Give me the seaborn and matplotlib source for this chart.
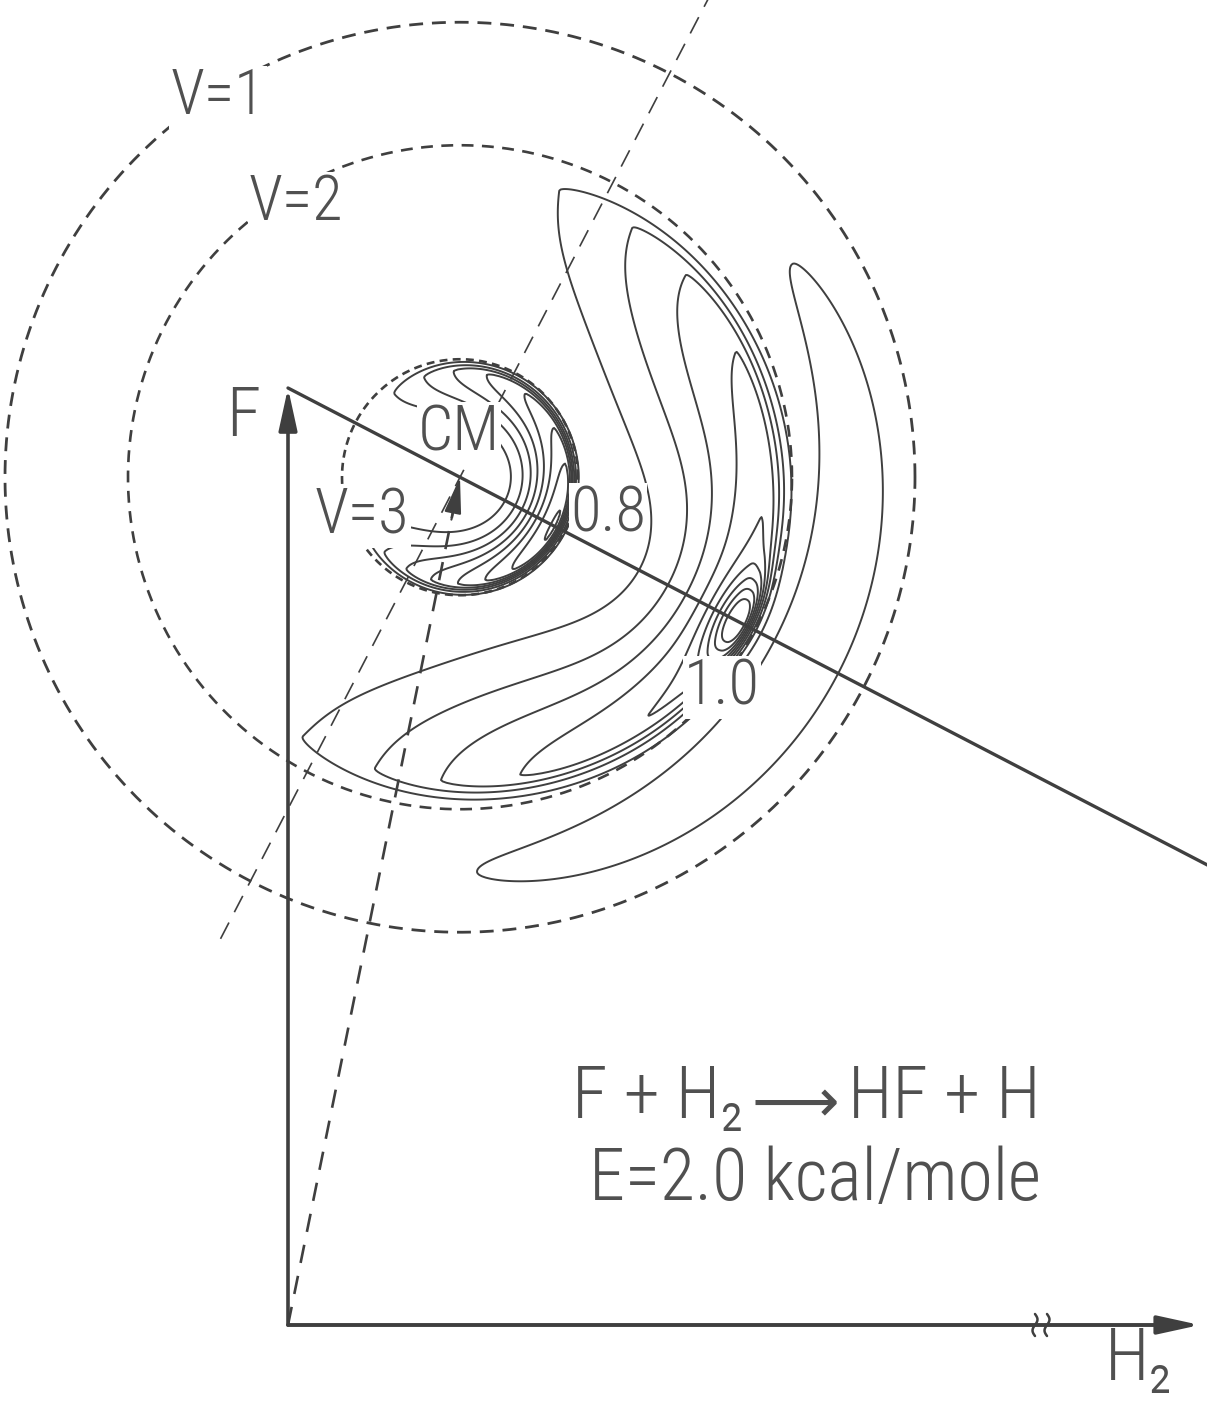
# Diagrama de Newton com mapa de contorno do fluxo de HF (F + H2 -> HF + H)

import numpy as np
import matplotlib.pyplot as plt
import seaborn as sns
from matplotlib.patches import FancyArrowPatch, ArrowStyle

# --- Dados do diagrama (unidades de velocidade, escala da figura) ---
beam_names = ["F", "H₂"]
beam_masses = [19.0, 2.0]
beam_speeds = [937.0, 1806.0]      # F ao longo de +y, H2 ao longo de +x
h2_drawn = 912.0                    # comprimento desenhado do vetor H2 (eixo interrompido)
h2_break = 753.0

vib_labels = ["V=1", "V=2", "V=3"]
vib_radii = [455.0, 332.0, 118.0]

# componentes do fluxo (anéis por estado vibracional), psi medido a partir da direção do H2
comp_state = ["v2", "v2", "v2", "v2", "v3", "v3", "v1"]
comp_amp = [0.55, 0.35, 0.35, 0.35, 0.30, 0.50, 0.16]
comp_psi0 = [0, 0, 50, -47, 0, 15, 0]
comp_spsi = [6, 25, 30, 29, 35, 105, 62]
comp_pow = [2, 2, 2, 2, 2, 4, 2]
comp_r0 = [318, 314, 303, 303, 106, 106, 395]
comp_sin = [18, 45, 82, 82, 20, 30, 42]
comp_sout = [8, 10, 11, 11, 6, 6, 32]

contour_levels = [0.1, 0.2, 0.3, 0.4, 0.5, 0.6, 0.7, 0.8, 0.9]
peak_labels = ["0.8", "1.0"]
reaction = ["F + H₂", "⟶", "HF + H"]
energy = "E=2.0 kcal/mole"

# --- Estilo ---
sns.set_theme(style="white")
ink = "#3f3f3f"
txt = "#505050"
plt.rcParams["font.family"] = ["Roboto Condensed", "DejaVu Sans"]

fig = plt.figure(figsize=(12.07, 14.05), dpi=100)
ax = fig.add_axes([0, 0, 1, 1])
ax.set_xlim(-288, 919)
ax.set_ylim(-80, 1325)
ax.axis("off")

m_F, m_H2 = beam_masses
v_F, v_H2 = beam_speeds
cm_x = m_H2 * v_H2 / (m_F + m_H2)
cm_y = m_F * v_F / (m_F + m_H2)
theta_rel = np.degrees(np.arctan2(-v_F, v_H2))

# --- Campo de fluxo ---
gx = np.linspace(cm_x - 480, cm_x + 480, 700)
gy = np.linspace(cm_y - 480, cm_y + 480, 700)
X, Y = np.meshgrid(gx, gy)
R = np.hypot(X - cm_x, Y - cm_y)
psi = (np.degrees(np.arctan2(Y - cm_y, X - cm_x)) - theta_rel + 180) % 360 - 180

Z = np.zeros_like(R)
for i in range(len(comp_state)):
    dpsi = (psi - comp_psi0[i] + 180) % 360 - 180
    ang = np.exp(-0.5 * np.abs(dpsi / comp_spsi[i]) ** comp_pow[i])
    s = np.where(R < comp_r0[i], comp_sin[i], comp_sout[i])
    rad = np.exp(-0.5 * ((R - comp_r0[i]) / s) ** 2)
    Z += comp_amp[i] * ang * rad

ax.contour(X, Y, Z, levels=contour_levels, colors=ink, linewidths=1.4, zorder=1)

# --- Círculos de energia máxima (tracejados) ---
th = np.linspace(0, 2 * np.pi, 900)
circle_lw = [2.0, 1.9, 1.9]
circle_dash = [(5, 3.2), (4.5, 3.2), (3, 2)]
for i, rad in enumerate(vib_radii):
    sns.lineplot(x=cm_x + rad * np.cos(th), y=cm_y + rad * np.sin(th), sort=False,
                 estimator=None, color=ink, lw=circle_lw[i],
                 linestyle=(0, circle_dash[i]), ax=ax, zorder=1.5)

# linha perpendicular à velocidade relativa passando pelo CM
px, py = np.array([v_F, v_H2]) / np.hypot(v_F, v_H2)
t = np.array([-520.0, 545.0])
sns.lineplot(x=cm_x + t * px, y=cm_y + t * py, sort=False, estimator=None,
             color=ink, lw=1.2, linestyle=(0, (11, 7)), ax=ax, zorder=1.5)

# vetor do CM (tracejado)
sns.lineplot(x=[0, cm_x * 0.97], y=[0, cm_y * 0.97], sort=False, estimator=None,
             color=ink, lw=1.9, linestyle=(0, (7, 5)), ax=ax, zorder=1.5)
ax.add_patch(FancyArrowPatch((cm_x * 0.95, cm_y * 0.95), (cm_x, cm_y),
                             arrowstyle=ArrowStyle("-|>", head_length=1.5, head_width=0.35),
                             mutation_scale=15, color=ink, lw=1.5,
                             shrinkA=0, shrinkB=0, zorder=4))

# --- Rótulos ---
lab = dict(color=txt, fontsize=45, fontweight="light", ha="center", va="center", zorder=2,
           bbox=dict(facecolor="white", edgecolor="none", pad=1))
ax.text(-70, 1228, vib_labels[0], **lab)
ax.text(8, 1122, vib_labels[1], **lab)
ax.text(74, 809, vib_labels[2], **lab)
ax.text(171, 892, "CM", **lab)
ax.text(320, 811, peak_labels[0], **lab)
ax.text(434, 638, peak_labels[1], **lab)
ax.text(-45, 908, beam_names[0], color=txt, fontsize=50, fontweight="light",
        ha="center", va="center")

eq = dict(color=txt, fontsize=52, fontweight="light", va="baseline")
ax.text(456, 207, reaction[0], ha="right", **eq)
ax.text(507, 219, reaction[1], color=txt, fontsize=44, family="DejaVu Sans",
        ha="center", va="center")
ax.text(560, 207, reaction[2], ha="left", **eq)
ax.text(527, 125, energy, ha="center", **eq)
ax.text(817, -55, beam_names[1], ha="left", **eq)

# --- Vetores (linhas sólidas) ---
vec_style = ArrowStyle("-|>", head_length=1.6, head_width=0.35)
ax.add_patch(FancyArrowPatch((0, 0), (0, v_F), arrowstyle=vec_style, mutation_scale=16,
                             color=ink, lw=2.6, shrinkA=0, shrinkB=0, zorder=4))
ax.add_patch(FancyArrowPatch((0, 0), (h2_drawn, 0), arrowstyle=vec_style, mutation_scale=16,
                             color=ink, lw=2.8, shrinkA=0, shrinkB=0, zorder=4))
sns.lineplot(x=[0, v_H2], y=[v_F, 0], sort=False, estimator=None,
             color=ink, lw=2.4, ax=ax, zorder=4)

# marcas de interrupção do eixo H2
s = np.linspace(-1, 1, 20)
for off in (-6, 6):
    ax.plot(h2_break + off + 2.5 * np.sin(np.pi * s), 11 * s, color=ink, lw=1.8, zorder=5)

fig.savefig("out.png", dpi=100, facecolor="white")
